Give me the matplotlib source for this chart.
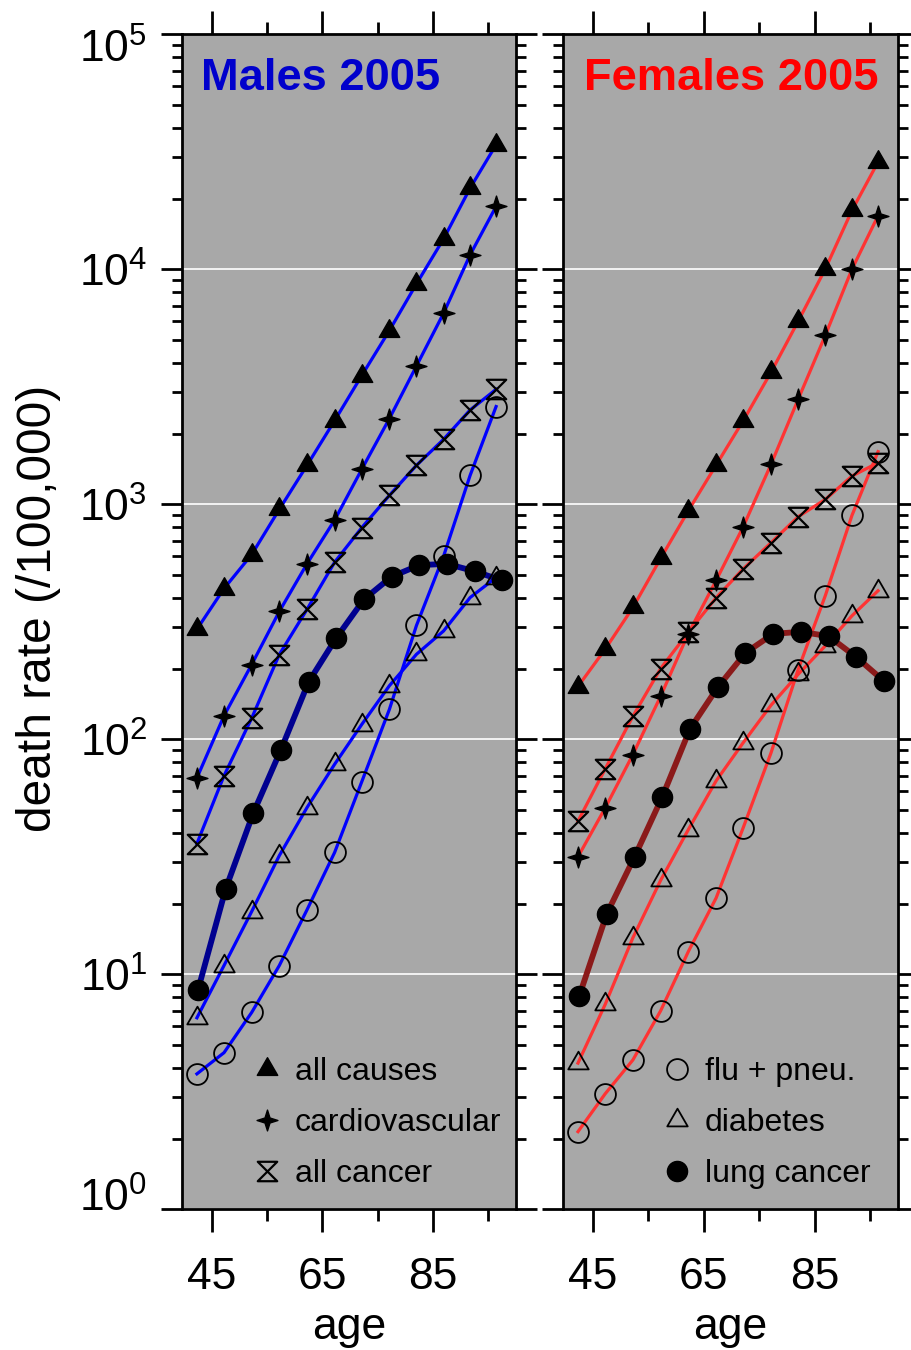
import matplotlib
matplotlib.use("Agg")
import matplotlib.pyplot as plt
import matplotlib.transforms as mtrans
from matplotlib.path import Path
from matplotlib.lines import Line2D
from matplotlib.ticker import FixedLocator, LogLocator, NullFormatter

plt.rcParams['font.family'] = ['Liberation Sans', 'DejaVu Sans']
plt.rcParams['mathtext.fontset'] = 'custom'
plt.rcParams['mathtext.rm'] = 'Liberation Sans'

# ---------------- data ----------------
ages = [42.3, 47.2, 52.2, 57.2, 62.2, 67.2, 72.1, 77.1, 82.0, 86.9, 91.7, 96.4]
lung_ages = [42.5, 47.5, 52.5, 57.5, 62.5, 67.5, 72.5, 77.5, 82.5, 87.5, 92.5, 97.5]

m_all = [294, 438, 611, 952, 1464, 2270, 3529, 5486, 8672, 13470, 22150, 33890]
m_cardio = [68.5, 126, 208, 350, 558, 857, 1408, 2315, 3879, 6502, 11520, 18520]
m_cancer = [36, 70, 123, 229.5, 357, 567, 795, 1091, 1465, 1890, 2519, 3085]
m_flu = [3.77, 4.64, 6.88, 10.9, 18.8, 33.0, 65.9, 134, 305, 601, 1327, 2606]
m_diab = [6.53, 10.9, 18.5, 32.0, 51.2, 78.3, 115.6, 169, 230, 289, 401, 488]
m_lung = [8.59, 23.1, 48.6, 90.4, 175.5, 270, 394, 492, 551, 558, 519, 474]

f_all = [167.7, 241.7, 363.8, 588.3, 939, 1468, 2270, 3645, 6011, 10040, 17810, 28590]
f_cardio = [31.6, 51.0, 86.1, 152.5, 281.9, 474, 803, 1479, 2797, 5241, 10010, 16890]
f_cancer = [44.8, 74.8, 125.3, 200, 285.5, 400.2, 531.7, 686.3, 885.7, 1049, 1319, 1503]
f_flu = [2.14, 3.10, 4.32, 6.99, 12.5, 21.1, 42.1, 87.5, 198, 409, 897, 1675]
f_diab = [4.19, 7.44, 14.3, 25.1, 41.3, 66.5, 96.8, 139.6, 189.1, 249.9, 335.4, 428.6]
f_lung = [8.05, 18.1, 31.6, 56.9, 110.7, 166.5, 233.3, 281, 286.7, 274.6, 223.5, 176.6]

x_major = [45, 65, 85]
x_minor = [55, 75, 95]
panel_titles = ["Males 2005", "Females 2005"]
legend_left = ["all causes", "cardiovascular", "all cancer"]
legend_right = ["flu + pneu.", "diabetes", "lung cancer"]

# ---------------- markers ----------------
tri = Path([(0, 1), (-0.866, -0.5), (0.866, -0.5), (0, 1)],
           [Path.MOVETO, Path.LINETO, Path.LINETO, Path.CLOSEPOLY])
a = 0.24
star = Path([(0, 1), (a, a), (1, 0), (a, -a), (0, -1), (-a, -a), (-1, 0), (-a, a), (0, 1)],
            [Path.MOVETO] + [Path.LINETO] * 7 + [Path.CLOSEPOLY])
hourglass = Path([(-1, 1), (1, 1), (-1, -1), (1, -1), (-1, 1)],
                 [Path.MOVETO, Path.LINETO, Path.LINETO, Path.LINETO, Path.CLOSEPOLY])

styles = {
    'all': dict(marker=tri, ms=17, mfc='black', mec='black', mew=1.0),
    'cardio': dict(marker=star, ms=15, mfc='black', mec='black', mew=1.0),
    'cancer': dict(marker=hourglass, ms=14, mfc='none', mec='black', mew=1.6),
    'flu': dict(marker='o', ms=15, mfc='none', mec='black', mew=1.3),
    'diab': dict(marker=tri, ms=17, mfc='none', mec='black', mew=1.3),
    'lung': dict(marker='o', ms=14.5, mfc='black', mec='black', mew=1.0),
}

fig = plt.figure(figsize=(9.12, 13.5), dpi=100)
ax1 = fig.add_axes([182 / 912, 140.7 / 1350, 334 / 912, 1175 / 1350])
ax2 = fig.add_axes([563 / 912, 140.7 / 1350, 335 / 912, 1175 / 1350])

panels = [
    (ax1, [m_all, m_cardio, m_cancer, m_flu, m_diab], m_lung, '#0000ff', '#000090', '#0000cc'),
    (ax2, [f_all, f_cardio, f_cancer, f_flu, f_diab], f_lung, '#ff3333', '#8b1a1a', '#ff0000'),
]
keys = ['all', 'cardio', 'cancer', 'flu', 'diab']
title_x = [0.058, 0.063]

for i, (ax, series, lung, lcol, lungcol, tcol) in enumerate(panels):
    ax.set_facecolor('#a8a8a8')
    ax.set_yscale('log')
    ax.set_ylim(1, 1e5)
    ax.set_xlim(39.6, 100)
    ax.set_axisbelow(True)
    ax.grid(True, which='major', axis='y', color='white', lw=1.2)
    ax.grid(False, axis='x')
    # lines
    for s in series:
        ax.plot(ages, s, color=lcol, lw=2.3, zorder=2)
    ax.plot(lung_ages, lung, color=lungcol, lw=4.2, zorder=2)
    # markers
    for k, s in zip(keys, series):
        ax.plot(ages, s, linestyle='none', zorder=3, **styles[k])
    ax.plot(lung_ages, lung, linestyle='none', zorder=3, **styles['lung'])

    ax.xaxis.set_major_locator(FixedLocator(x_major))
    ax.xaxis.set_minor_locator(FixedLocator(x_minor))
    ax.yaxis.set_major_locator(LogLocator(base=10, numticks=10))
    ax.yaxis.set_minor_locator(LogLocator(base=10, subs=range(2, 10), numticks=20))
    ax.yaxis.set_minor_formatter(NullFormatter())
    ax.tick_params(axis='both', which='both', direction='out', top=True, right=True,
                   width=2, color='black')
    ax.tick_params(axis='y', which='major', length=15, labelsize=32, pad=10)
    ax.tick_params(axis='y', which='minor', length=7.5)
    ax.tick_params(axis='x', which='major', length=16.5, labelsize=32, pad=17.5)
    ax.tick_params(axis='x', which='minor', length=8.5)
    for sp in ax.spines.values():
        sp.set_linewidth(2)
        sp.set_color('black')
    ax.set_xlabel('age', fontsize=32, labelpad=7)
    ax.text(title_x[i], 0.9526, panel_titles[i], transform=ax.transAxes,
            fontsize=32.6, fontweight='bold', color=tcol, ha='left', va='baseline')

ax2.tick_params(axis='y', which='both', labelleft=False)
ax1.set_ylabel('death rate (/100,000)', fontsize=34.5, labelpad=13, y=0.511)


def make_legend(ax, keylist, labels, x0):
    handles = [Line2D([], [], linestyle='none', **styles[k]) for k in keylist]
    return ax.legend(handles, labels, loc='lower left', bbox_to_anchor=(x0, 0.017),
                     frameon=False, fontsize=23, handlelength=1.0, handletextpad=0.38,
                     labelspacing=0.66, borderpad=0, borderaxespad=0)


make_legend(ax1, ['all', 'cardio', 'cancer'], legend_left, 0.2066)
make_legend(ax2, ['flu', 'diab', 'lung'], legend_right, 0.2925)

# nudge the end labels (10^0 up, 10^5 down) inside the axis range, as in the original
fig.canvas.draw()
for tick in ax1.yaxis.get_major_ticks():
    loc = tick.get_loc()
    if abs(loc - 1) < 1e-6:
        tick.label1.set_transform(mtrans.offset_copy(tick.label1.get_transform(), fig=fig,
                                                     x=0, y=15, units='dots'))
    elif abs(loc - 1e5) < 1e-1:
        tick.label1.set_transform(mtrans.offset_copy(tick.label1.get_transform(), fig=fig,
                                                     x=0, y=-11, units='dots'))

fig.savefig('out.png', dpi=100)
